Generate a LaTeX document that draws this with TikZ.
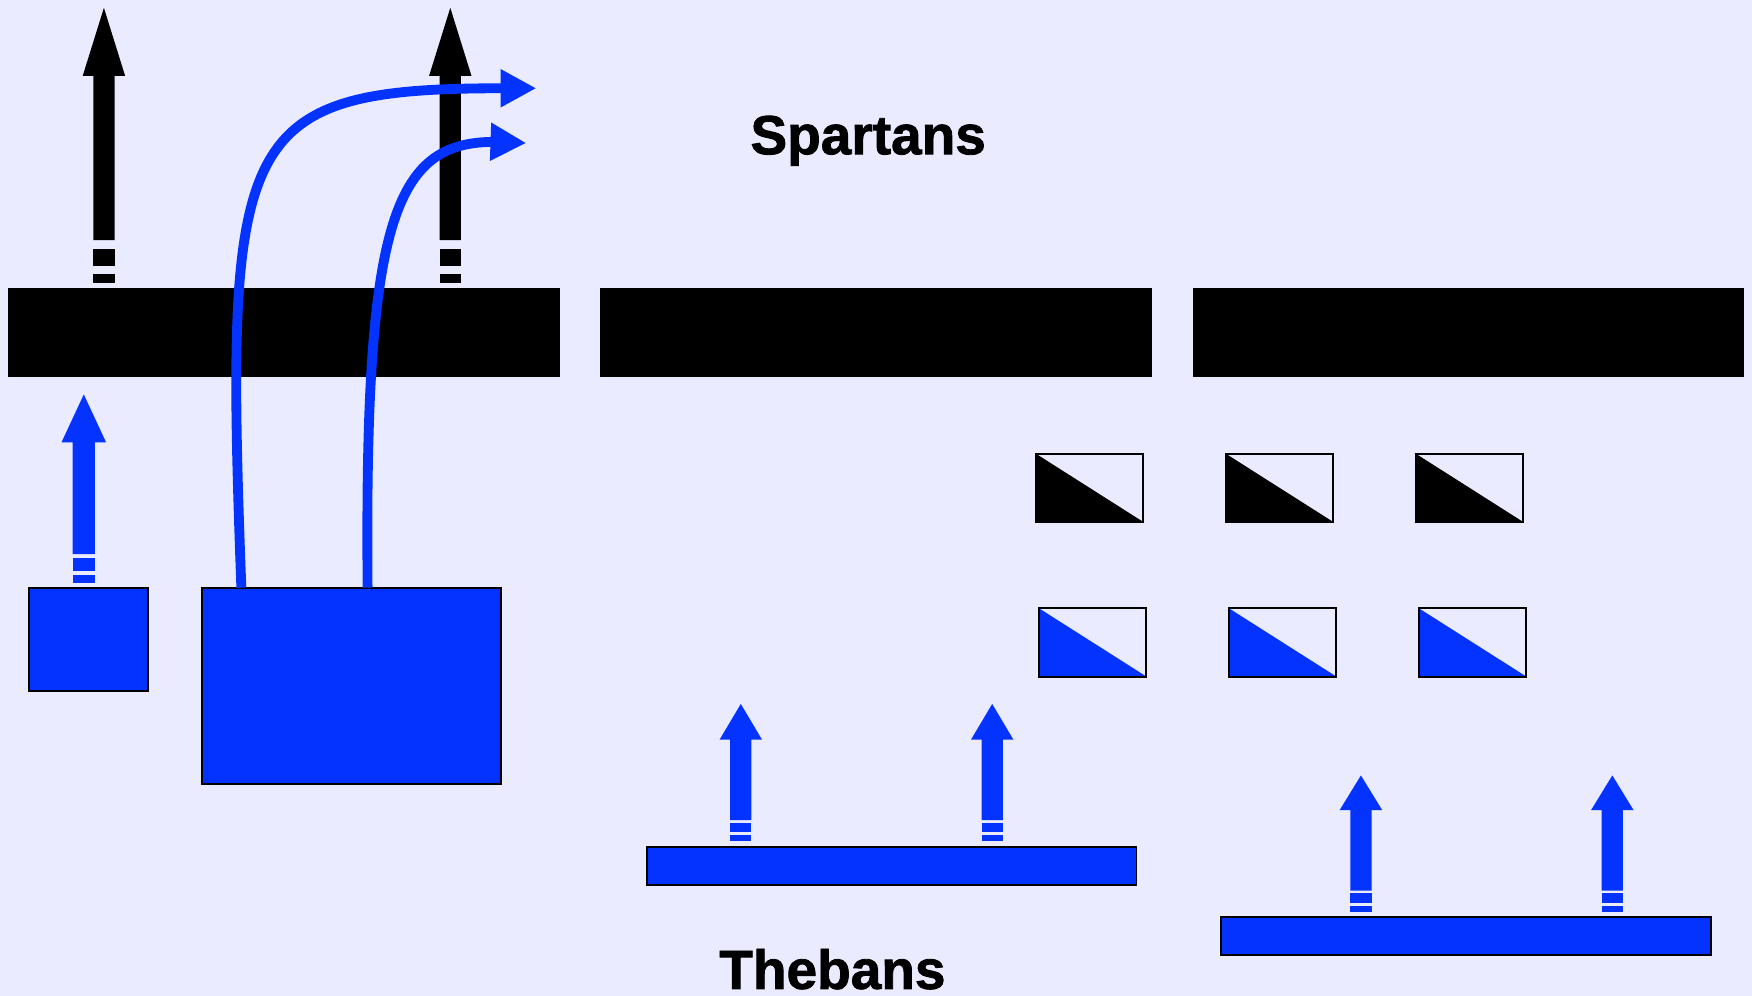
\documentclass[tikz,border=0pt]{standalone}
\usepackage{fontspec}
\setmainfont{Liberation Sans}[BoldFeatures={FakeBold=1.5}]
\usetikzlibrary{arrows.meta}
\definecolor{bg}{RGB}{234,235,255}
\definecolor{tblue}{RGB}{4,51,255}
\newcommand{\blockarr}[9]{%
  \fill[#1] (#2,#4) -- (#2+#3,#5) -- (#2+#3/2,#5) -- (#2+#3/2,#6) -- (#2-#3/2,#6) -- (#2-#3/2,#5) -- (#2-#3,#5) -- cycle;
  \fill[#1] (#2-#3/2,#6+#7) rectangle (#2+#3/2,#8);
  \fill[#1] (#2-#3/2,#8+#7) rectangle (#2+#3/2,#9);
}
\tikzset{
  blackbar/.style={rectangle, fill=black, draw=none, inner sep=0pt, outer sep=0pt},
  bluebox/.style={rectangle, fill=tblue, draw=black, line width=0.5pt, inner sep=0pt, outer sep=0pt},
  flagbox/.style={rectangle, fill=bg, draw=black, line width=0.5pt, inner sep=0pt, outer sep=0pt, minimum width=0.96cm, minimum height=0.61cm},
  bcurve/.style={draw=tblue, line width=2.5pt, -{Triangle[length=0.32cm,width=0.32cm]}},
  label/.style={font=\fontsize{14}{16}\selectfont\bfseries, inner sep=0pt}
}
\begin{document}
\begin{tikzpicture}[x=0.01cm,y=-0.01cm]
\fill[bg] (0,0) rectangle (1568,891);
\useasboundingbox (0,0) rectangle (1568,891);
% black bars
\node[blackbar, minimum width=4.94cm, minimum height=0.79cm] (bar1) at (254,297.5) {};
\node[blackbar, minimum width=4.94cm, minimum height=0.79cm] (bar2) at (784,297.5) {};
\node[blackbar, minimum width=4.93cm, minimum height=0.79cm] (bar3) at (1314.5,297.5) {};
% blue boxes
\node[bluebox, minimum width=1.06cm, minimum height=0.92cm] (small) at (79,572) {};
\node[bluebox, minimum width=2.67cm, minimum height=1.76cm] (big) at (314.5,614) {};
\node[bluebox, minimum width=4.38cm, minimum height=0.34cm] (tbar1) at (798,775) {};
\node[bluebox, minimum width=4.38cm, minimum height=0.34cm] (tbar2) at (1312,838) {};
% flag boxes
\foreach \n/\x/\y/\c in {f1/975/436.5/black, f2/1145/436.5/black, f3/1315/436.5/black,
                         g1/978/575/tblue, g2/1148/575/tblue, g3/1318/575/tblue}{
  \node[flagbox] (\n) at (\x,\y) {};
  \fill[\c] (\n.north west) -- (\n.south east) -- (\n.south west) -- cycle;
  \draw[black, line width=0.5pt] (\n.north west) rectangle (\n.south east);
}
% block arrows
\blockarr{black}{93}{19}{7}{68}{215}{7.5}{238}{253.5}
\blockarr{black}{403}{19}{7}{68}{215}{7.5}{238}{253.5}
\blockarr{tblue}{75}{20}{353}{396}{496}{3.5}{511}{522}
\blockarr{tblue}{663}{19}{630}{662}{734}{2.5}{745}{753}
\blockarr{tblue}{888}{19}{630}{662}{734}{2.5}{745}{753}
\blockarr{tblue}{1218}{19}{694}{725}{797}{2.5}{808}{816}
\blockarr{tblue}{1443}{19}{694}{725}{797}{2.5}{808}{816}
% curved arrows
\coordinate (c1s) at (216,526);
\coordinate (c1e) at (480,79);
\coordinate (c2s) at (329,526);
\coordinate (c2e) at (471,128);
\draw[bcurve] (c1s) .. controls (201,120) and (210,79) .. (450,79) -- (c1e);
\draw[bcurve] (c2s) .. controls (326,200) and (352,127) .. (442,127) -- (c2e);
% labels
\node[label, anchor=base] (spartans) at (777,138) {Spartans};
\node[label, anchor=base] (thebans) at (745,885) {Thebans};
\end{tikzpicture}
\end{document}
